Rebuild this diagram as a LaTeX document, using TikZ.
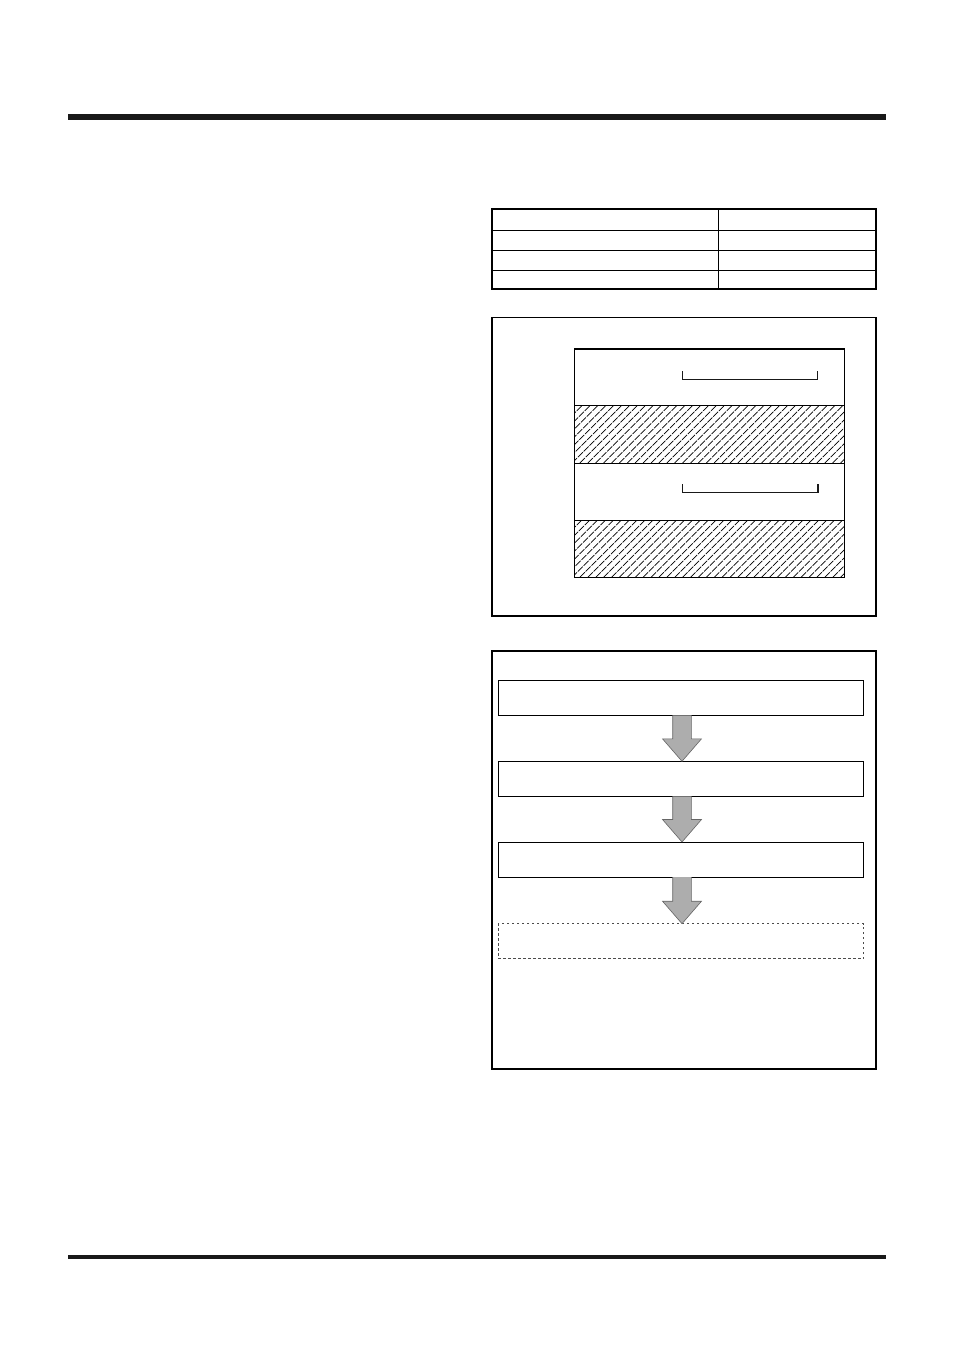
\documentclass[tikz,border=0pt]{standalone}
\usetikzlibrary{positioning, calc}
\tikzset{
  band/.style={rectangle, draw=black, line width=0.8pt, minimum width=270pt, minimum height=57.15pt, inner sep=0pt, outer sep=0pt},
  panel/.style={rectangle, draw=black, line width=1.3pt, minimum width=384pt, inner sep=0pt, outer sep=0pt},
  stepbox/.style={rectangle, draw=black, line width=0.9pt, minimum width=365.4pt, minimum height=35pt, inner sep=0pt, outer sep=0pt},
  nextbox/.style={stepbox, draw=black!70, dash pattern=on 2.6pt off 2.4pt}
}
\tikzstyle{rule} = [line width=6pt, black!90]
\tikzstyle{hatch} = [line width=0.7pt, black, dash pattern=on 7pt off 1.2pt]
\tikzstyle{bracket} = [line width=1.2pt, black!90]
\tikzstyle{blockarrow} = [fill=black!32, draw=black!60, line width=0.6pt]

\begin{document}
\begin{tikzpicture}[x=1pt, y=1pt, node distance=46pt]
    \useasboundingbox (0,0) rectangle (954,-1351);
    \fill [white] (0,0) rectangle (954,-1351);

    \coordinate (rl) at (68,-117);
    \coordinate (rr) at (886,-117);
    \draw [rule] (rl) -- (rr);
    \coordinate (fl) at (68,-1257);
    \coordinate (fr) at (886,-1257);
    \draw [rule, line width=3.6pt] (fl) -- (fr);

    \node [panel, line width=2pt, minimum height=79.4pt, anchor=north west] (tab) at (492,-209.3) {};
    \foreach \y in {21.4,41.4,60.7}
        \draw [line width=1pt] ($(tab.north west)+(-0.8,-\y)$) -- ($(tab.north east)+(0,-\y)$);
    \draw [line width=1pt] ($(tab.north west)+(226.7,0)$) -- ($(tab.south west)+(226.7,0)$);

    \node [panel, minimum height=298.7pt, anchor=north west] (lay) at (492,-317.3) {};
    \node [band, anchor=north west] (b1) at (574.7,-348.7) {};
    \node [band, below=0pt of b1] (b2) {};
    \node [band, below=0pt of b2] (b3) {};
    \node [band, below=0pt of b3] (b4) {};
    \foreach \b in {b2,b4}{
        \begin{scope}
            \clip (\b.south west) rectangle (\b.north east);
            \foreach \i in {0,...,42}
                \draw [hatch] ($(\b.south west)+(\i*7.9-58,0)$) -- ++(57.15,57.15);
        \end{scope}
        \draw [line width=0.8pt] (\b.south west) rectangle (\b.north east);
    }
    \draw [line width=1pt] (b1.north west) rectangle (b4.south east);
    \draw [line width=1.6pt] (b1.north west) -- (b1.north east);
    \draw [bracket] ($(b1.north west)+(107.6,-22.3)$) -- ++(0,-8.3) -- ++(135.4,0) -- ++(0,8.3);
    \draw [bracket, line width=1.6pt] ($(b3.north west)+(107.6,-21.3)$) -- ++(0,-8.3) -- ++(135.4,0) -- ++(0,8.3);

    \node [panel, line width=1.6pt, minimum height=418pt, anchor=north west] (flow) at (492,-650.7) {};
    \node [stepbox, anchor=north west] (s1) at (498.3,-680.3) {};
    \node [stepbox, below=of s1] (s2) {};
    \node [stepbox, below=45.7pt of s2] (s3) {};
    \node [nextbox, below=46.7pt of s3] (s4) {};

    \foreach \a/\b in {s1/s2, s2/s3, s3/s4}{
        \fill [blockarrow, draw=none] ($(\a.south)+(-8.3,0)$) -- ($(\b.north)+(-8.3,22.5)$) -- ++(-10.2,0) -- ($(\b.north)+(1,0)$) -- ++(19.5,22.5) -- ++(-10.2,0) -- ($(\a.south)+(10.3,0)$) -- cycle;
        \draw [blockarrow, fill=none] ($(\a.south)+(-8.3,0)$) -- ($(\b.north)+(-8.3,22.5)$) -- ++(-10.2,0) -- ($(\b.north)+(1,0)$) -- ++(19.5,22.5) -- ++(-10.2,0) -- ($(\a.south)+(10.3,0)$);
    }
\end{tikzpicture}
\end{document}
